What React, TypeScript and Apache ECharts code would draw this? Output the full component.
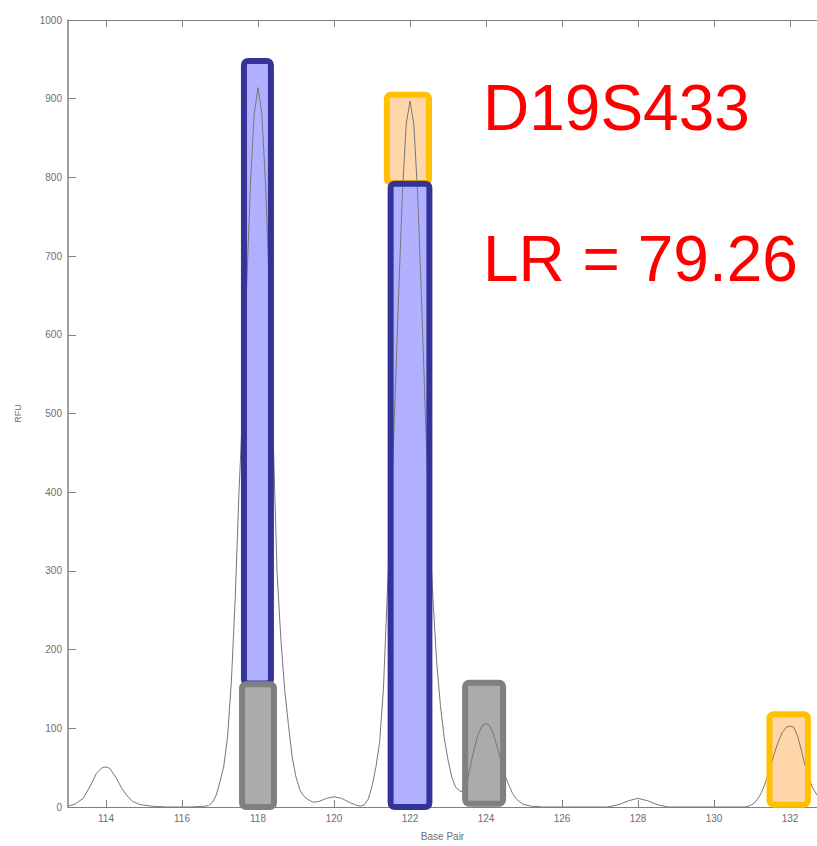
import React, { useEffect, useRef } from "react";
import * as echarts from "echarts";

// Electropherogram trace (base pair, RFU)
const curveBp = [
  113.0, 113.2, 113.4, 113.6, 113.75, 113.9, 114.0, 114.1, 114.28, 114.4, 114.54, 114.7, 114.9, 115.2, 115.6,
  116.2, 116.6, 116.7, 116.8, 116.9, 117.0, 117.1, 117.2, 117.3, 117.4, 117.5, 117.6, 117.7, 117.8, 117.9,
  118.0, 118.1, 118.2, 118.3, 118.4, 118.5, 118.6, 118.7, 118.8, 118.9, 119.0, 119.1, 119.2, 119.3, 119.45,
  119.6, 119.8, 120.0, 120.2, 120.4, 120.6, 120.7, 120.8, 120.9, 121.0, 121.1, 121.2, 121.3, 121.4, 121.5,
  121.6, 121.7, 121.8, 121.9, 122.0, 122.1, 122.2, 122.3, 122.4, 122.5, 122.6, 122.7, 122.8, 122.9, 123.0,
  123.1, 123.2, 123.35, 123.5, 123.6, 123.7, 123.8, 123.9, 124.0, 124.1, 124.2, 124.3, 124.4, 124.5, 124.6,
  124.7, 124.8, 124.9, 125.0, 125.2, 125.5, 126.5, 127.2, 127.5, 127.75, 128.0, 128.25, 128.5, 128.8, 130.0,
  130.8, 130.9, 131.0, 131.1, 131.2, 131.3, 131.4, 131.5, 131.6, 131.7, 131.8, 131.9, 132.0, 132.1, 132.2,
  132.3, 132.4, 132.5, 132.6, 132.71,
];
const curveRfu = [
  1, 4, 11, 28, 43, 50, 51, 49, 36, 25, 15, 7, 3, 1, 0,
  0, 1, 2, 6, 15, 32, 52, 90, 160, 265, 400, 510, 658, 790, 881,
  914, 881, 790, 658, 470, 300, 215, 150, 105, 63, 38, 22, 14, 10, 6,
  7, 11, 13, 11, 6, 2, 1, 3, 10, 26, 50, 82, 150, 268, 380,
  510, 650, 780, 868, 897, 868, 780, 650, 505, 370, 268, 185, 129, 88, 60,
  38, 25, 19, 30, 55, 76, 93, 103, 106, 103, 92, 75, 57, 40, 28,
  17, 10, 6, 3, 1, 0, 0, 0, 3, 8, 11, 8, 3, 0, 0,
  0, 1, 3, 7, 14, 24, 38, 54, 70, 84, 95, 101, 103, 101, 90,
  72, 52, 36, 24, 15,
];

// Allele boxes: base-pair span and RFU span, with their kind
const boxKinds = ["orange", "orange", "blue", "blue", "gray", "gray"];
const boxBpStart = [121.39, 131.46, 117.63, 121.49, 117.58, 123.45];
const boxBpEnd = [122.5, 132.47, 118.34, 122.51, 118.42, 124.45];
const boxRfuLow = [793, 3, 157, 0, 0, 4];
const boxRfuHigh = [905, 118, 948, 792, 156, 158];

const xTicks = [114, 116, 118, 120, 122, 124, 126, 128, 130, 132];

const locusLabel = "D19S433";
const lrLabel = "LR = 79.26";

const kindStyle: Record<string, { fill: string; stroke: string }> = {
  blue: { fill: "#b0b0ff", stroke: "#333399" },
  gray: { fill: "#ababab", stroke: "#808080" },
  orange: { fill: "#ffd5aa", stroke: "#ffc000" },
};

const FONT = "'Liberation Sans', Arial, Helvetica, sans-serif";

export default function App() {
  const ref = useRef<HTMLDivElement>(null);

  useEffect(() => {
    if (!ref.current) return;
    const chart = echarts.init(ref.current, undefined, { renderer: "svg" });

    const boxData = boxKinds.map((k, i) => [
      boxBpStart[i],
      boxBpEnd[i],
      boxRfuLow[i],
      boxRfuHigh[i],
      i,
    ]);

    const makeBoxSeries = (layer: "fill" | "stroke", z: number) => ({
      type: "custom",
      xAxisIndex: 0,
      yAxisIndex: 0,
      z,
      clip: false,
      silent: true,
      encode: { x: [0, 1], y: [2, 3] },
      data: boxData,
      renderItem: (params: any, api: any) => {
        const idx = api.value(4);
        const st = kindStyle[boxKinds[idx]];
        const p0 = api.coord([api.value(0), api.value(3)]);
        const p1 = api.coord([api.value(1), api.value(2)]);
        return {
          type: "rect",
          shape: {
            x: p0[0],
            y: p0[1],
            width: p1[0] - p0[0],
            height: p1[1] - p0[1],
            r: 4,
          },
          style:
            layer === "fill"
              ? { fill: st.fill, stroke: null }
              : { fill: "none", stroke: st.stroke, lineWidth: 6 },
        };
      },
    });

    const axisColor = "#808080";
    const labelColor = "#6e6e6e";

    chart.setOption({
      animation: false,
      backgroundColor: "#ffffff",
      grid: { left: 68, top: 20, right: 0, height: 792, containLabel: false },
      xAxis: [
        {
          type: "value",
          min: 113,
          max: 132.71,
          position: "bottom",
          axisLine: { show: true, onZero: false, lineStyle: { color: axisColor, width: 1 } },
          axisTick: {
            show: true,
            inside: true,
            length: 7,
            customValues: xTicks,
            lineStyle: { color: axisColor },
          },
          axisLabel: {
            customValues: xTicks,
            color: labelColor,
            fontSize: 10,
            margin: 6,
            fontFamily: FONT,
          },
          splitLine: { show: false },
          name: "Base Pair",
          nameLocation: "middle",
          nameGap: 24,
          nameTextStyle: { color: labelColor, fontSize: 10, fontFamily: FONT },
        },
        {
          type: "value",
          min: 113,
          max: 132.71,
          position: "top",
          axisLine: { show: true, onZero: false, lineStyle: { color: axisColor, width: 1 } },
          axisTick: {
            show: true,
            inside: true,
            length: 7,
            customValues: xTicks,
            lineStyle: { color: axisColor },
          },
          axisLabel: { show: false },
          splitLine: { show: false },
        },
      ],
      yAxis: {
        type: "value",
        min: 0,
        max: 1000,
        interval: 100,
        axisLine: { show: true, onZero: false, lineStyle: { color: axisColor, width: 1.5 } },
        axisTick: { show: true, inside: true, length: 8, lineStyle: { color: axisColor } },
        axisLabel: {
          color: labelColor,
          fontSize: 10,
          margin: 6,
          fontFamily: FONT,
          formatter: (v: number) => String(v),
        },
        splitLine: { show: false },
        name: "RFU",
        nameLocation: "middle",
        nameGap: 46,
        nameTextStyle: { color: labelColor, fontSize: 9, fontFamily: FONT },
      },
      graphic: [
        {
          type: "text",
          left: 483,
          top: 76,
          z: 100,
          style: {
            text: locusLabel,
            fill: "#ff0000",
            fontSize: 64,
            fontFamily: FONT,
            verticalAlign: "middle",
          },
        },
        {
          type: "text",
          left: 483,
          top: 227,
          z: 100,
          style: {
            text: lrLabel,
            fill: "#ff0000",
            fontSize: 64,
            fontFamily: FONT,
            verticalAlign: "middle",
          },
        },
      ],
      series: [
        makeBoxSeries("fill", 2),
        {
          type: "line",
          xAxisIndex: 0,
          yAxisIndex: 0,
          z: 3,
          showSymbol: false,
          symbol: "none",
          silent: true,
          lineStyle: { color: "#777777", width: 1 },
          data: curveBp.map((x, i) => [x, curveRfu[i]]),
        },
        makeBoxSeries("stroke", 4),
      ],
    });

    return () => chart.dispose();
  }, []);

  return (
    <div
      ref={ref}
      style={{ position: "fixed", left: 0, top: 0, width: 817, height: 846, background: "#fff" }}
    />
  );
}
